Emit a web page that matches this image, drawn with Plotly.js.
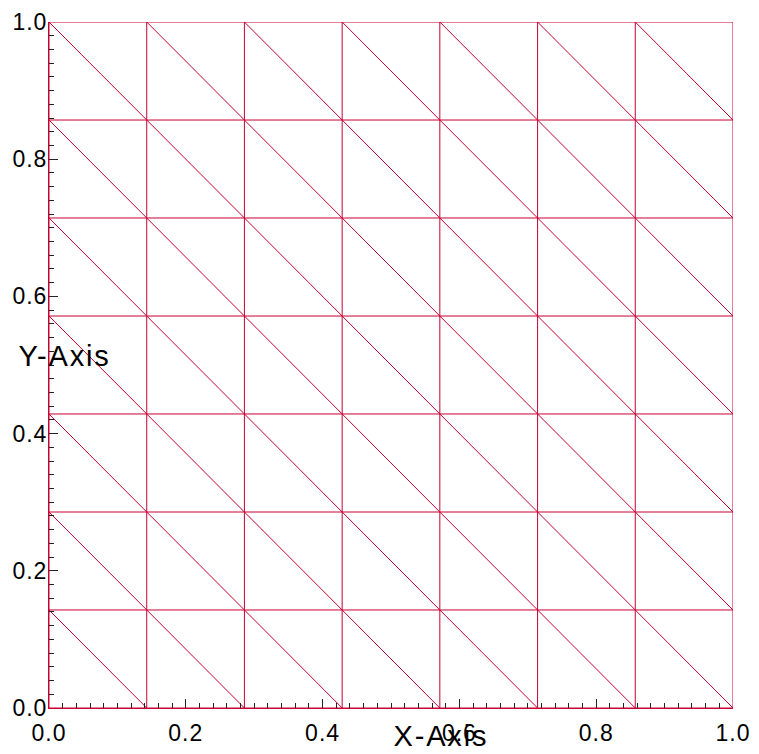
<!DOCTYPE html>
<html>
<head>
<meta charset="utf-8">
<script src="https://cdn.plot.ly/plotly-3.0.1.min.js"></script>
<style>
html,body{margin:0;padding:0;background:#fff;}
#chart{width:759px;height:754px;}
#chart .xtick text, #chart .ytick text { letter-spacing: 1px; }
#chart .annotation-text { letter-spacing: 1.8px; }
</style>
</head>
<body>
<div id="chart"></div>
<script>
// Mesh node coordinates (7 x 7 cells on the unit square)
const xNodes = [0, 0.1429, 0.2857, 0.4286, 0.5714, 0.7143, 0.8571, 1.0];
const yNodes = [0, 0.1429, 0.2857, 0.4286, 0.5714, 0.7143, 0.8571, 1.0];
const tickVals = [0, 0.2, 0.4, 0.6, 0.8, 1.0];
const tickText = ['0.0', '0.2', '0.4', '0.6', '0.8', '1.0'];
const meshColor = 'rgb(200,0,50)';

// Build edge segments from the node arrays
const ex = [], ey = [];
const nx = xNodes.length, ny = yNodes.length;
// horizontal lines
for (let j = 0; j < ny; j++) {
  ex.push(xNodes[0], xNodes[nx - 1], null);
  ey.push(yNodes[j], yNodes[j], null);
}
// vertical lines
for (let i = 0; i < nx; i++) {
  ex.push(xNodes[i], xNodes[i], null);
  ey.push(yNodes[0], yNodes[ny - 1], null);
}
// diagonals: top-left to bottom-right of each cell
for (let i = 0; i < nx - 1; i++) {
  for (let j = 0; j < ny - 1; j++) {
    ex.push(xNodes[i], xNodes[i + 1], null);
    ey.push(yNodes[j + 1], yNodes[j], null);
  }
}

const traces = [{
  type: 'scatter', mode: 'lines', x: ex, y: ey,
  line: {color: meshColor, width: 1}, hoverinfo: 'skip', showlegend: false,
  cliponaxis: false
}];

const fontFam = 'Liberation Sans, Arial, sans-serif';
const axisCommon = {
  range: [0, 1], showgrid: false, zeroline: false,
  showline: true, linecolor: meshColor, linewidth: 1,
  ticks: 'inside', ticklen: 9, tickwidth: 1, tickcolor: '#222',
  tickmode: 'array', tickvals: tickVals, ticktext: tickText,
  tickfont: {family: fontFam, size: 23, color: '#000'},
  minor: {dtick: 0.02, tick0: 0, ticks: 'inside', ticklen: 5, tickwidth: 1, tickcolor: '#222', showgrid: false},
  fixedrange: true
};

const layout = {
  width: 759, height: 754,
  margin: {l: 49, r: 26, t: 22, b: 46},
  paper_bgcolor: '#fff', plot_bgcolor: '#fff',
  showlegend: false,
  xaxis: Object.assign({}, axisCommon, {ticklabelstandoff: 4}),
  yaxis: Object.assign({}, axisCommon, {ticklabelstandoff: -4}),
  annotations: [
    {text: 'X-Axis', xref: 'paper', yref: 'paper', x: 0.573, y: 0, yshift: -28,
     xanchor: 'center', yanchor: 'middle', showarrow: false,
     font: {family: fontFam, size: 29, color: '#000'}},
    {text: 'Y-Axis', xref: 'paper', yref: 'paper', x: 0, y: 0.5, xshift: 15, yshift: 9,
     xanchor: 'center', yanchor: 'middle', showarrow: false,
     font: {family: fontFam, size: 29, color: '#000'}}
  ]
};

Plotly.newPlot('chart', traces, layout, {staticPlot: true, displayModeBar: false});
</script>
</body>
</html>
